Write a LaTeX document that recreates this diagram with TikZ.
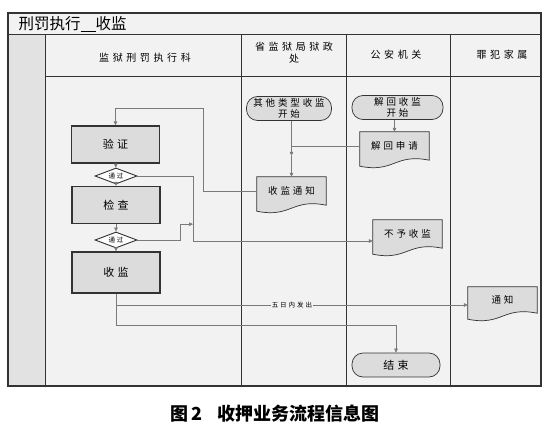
\documentclass[tikz,border=0pt]{standalone}
\usepackage{fontspec}
\setmainfont{Noto Sans CJK SC}
\newfontfamily\spaced{Noto Sans CJK SC}[LetterSpace=30]
\usetikzlibrary{arrows.meta, calc, shapes.geometric}
\definecolor{frameDark}{HTML}{333333}
\definecolor{lineGray}{HTML}{7A7A7A}
\definecolor{boxFill}{HTML}{DCDCDC}
\definecolor{paperGray}{HTML}{F2F2F2}
\definecolor{laneGray}{HTML}{E2E2E2}
\pgfdeclarelayer{paper}
\pgfdeclarelayer{sheets}
\pgfsetlayers{paper,sheets,main}

% document sheet with a wavy lower edge, drawn behind node #1
\newcommand{\docsheet}[1]{%
  \begin{pgfonlayer}{sheets}
    \path[docline] (#1.north west) -- (#1.north east) -- (#1.south east)
      .. controls ($(#1.south)+(0,-7)$) and ($(#1.south)+(0,13)$)
      .. ($(#1.south west)+(0,6)$) -- cycle;
  \end{pgfonlayer}}

\begin{document}
\begin{tikzpicture}[
  x=1pt, y=-1pt,
  font=\spaced\fontsize{9.5}{11}\selectfont,
  >={Triangle[length=4pt, width=3.6pt]},
  every node/.style={align=center},
  lane/.style={draw=frameDark, line width=0.8pt},
  headtext/.style={font=\spaced\addfontfeatures{LetterSpace=36}\fontsize{10}{12}\selectfont},
  procbox/.style={rectangle, draw=frameDark, line width=1.3pt, fill=boxFill,
                  minimum width=88, minimum height=37, inner sep=1pt,
                  font=\spaced\fontsize{11}{12}\selectfont},
  gate/.style={diamond, draw=frameDark, line width=0.9pt, fill=white,
               minimum width=42, minimum height=16, inner sep=0pt, aspect=2.6,
               font=\spaced\fontsize{6.5}{7}\selectfont},
  doc/.style={rectangle, minimum width=69, minimum height=28, inner sep=1pt},
  docline/.style={draw=frameDark, line width=0.7pt, fill=boxFill},
  term/.style={rectangle, rounded corners=11, draw=frameDark, line width=0.7pt,
               fill=boxFill, minimum height=24, inner sep=1pt},
  flow/.style={->, draw=lineGray, line width=0.5pt},
  link/.style={draw=lineGray, line width=0.5pt},
]
\useasboundingbox (0,0) rectangle (554,436);

% ── Swimlane frame ─────────────────────────────────────────────────
\def\frL{8}      % left border
\def\frR{541}    % right border
\def\frT{13}     % top border
\def\frB{386}    % bottom border
\def\rowH{34}    % bottom of the title row
\def\rowL{76}    % bottom of the lane headers
\def\laneA{45}   % narrow left strip
\def\laneB{241}
\def\laneC{346}
\def\laneD{450}

\begin{pgfonlayer}{paper}
  \fill[paperGray] (\frL,\frT) rectangle (\frR,\frB);
  \fill[laneGray]  (\frL,\rowH) rectangle (\laneA,\frB);
\end{pgfonlayer}
\draw[lane, line width=1.2pt] (\frL,\frT) rectangle (\frR,\frB);
\draw[lane] (\frL,\rowH) -- (\frR,\rowH);
\draw[lane] (\laneA,\rowL) -- (\frR,\rowL);
\foreach \x in {\laneA,\laneB,\laneC,\laneD}
  \draw[lane] (\x,\rowH) -- (\x,\frB);

\node[anchor=west, font=\rmfamily\fontsize{15.5}{17}\selectfont] (title) at (15,24)
  {刑罚执行\underline{\hspace{15pt}}收监};

\node[headtext] (hPrison)   at (145,58)  {监狱刑罚执行科};
\node[headtext] (hBureau)   at (294,53)  {省监狱局狱政\\处};
\node[headtext] (hPolice)   at (396,55)  {公安机关};
\node[headtext] (hFamily)   at (502,55)  {罪犯家属};

% ── Nodes ──────────────────────────────────────────────────────────
\node[procbox] (verify) at (115.5,144.5) {验证};
\node[gate]    (pass1)  at (116,176)     {通过};
\node[procbox] (check)  at (116,205)     {检查};
\node[gate]    (pass2)  at (116,240)     {通过};
\node[procbox, minimum height=41] (admit) at (116,272.5) {收监};

\node[term, minimum width=85] (otherStart)  at (289,108.5) {其他类型收监\\开始};
\node[term, minimum width=91] (returnStart) at (397.5,107.5) {解回收监\\开始};
\node[term, minimum width=88, font=\spaced\fontsize{11}{12}\selectfont]
  (finish) at (396,365) {结束};

\node[doc] (notice) at (291.5,191) {收监通知};
\node[doc] (appl)   at (394.5,146) {解回申请};
\node[doc] (reject) at (407.5,234) {不予收监};
\node[doc, minimum height=26] (inform) at (502.5,300) {通知};
\docsheet{notice}
\docsheet{appl}
\docsheet{reject}
\docsheet{inform}

% ── Main column flow ───────────────────────────────────────────────
\draw[flow] (verify) -- (pass1);
\draw[flow] (pass1)  -- (check);
\draw[flow] (check)  -- (pass2);
\draw[flow] (pass2)  -- (admit);

% ── Branches out of the checks ─────────────────────────────────────
\coordinate (laneX)    at (193,0);
\coordinate (rejIn)    at ($(reject.west)+(0,7)$);
\coordinate (checkTap) at (laneX |- check.south);
\draw[flow] (pass1.east) -- (pass1.east -| laneX)
                         -- (laneX |- rejIn) -- (rejIn);
\draw[flow] (pass2.east) -- ++(43,0) |- (checkTap);

% ── Bureau and police lanes ────────────────────────────────────────
\coordinate (joinPt) at ($(notice.north)+(0,-21)$);
\draw[flow] (otherStart.south -| notice.north) -- (joinPt);
\draw[flow] (joinPt) -- (notice.north);
\draw[link] (appl.west) -- (appl.west -| notice.north);
\draw[flow] (returnStart.south -| appl.north) -- (appl.north);

% notice goes back to the first check
\draw[flow] (notice.west) -- ++(-54,0) |- ($(verify.north)+(0,-17)$)
            -- (verify.north);

% ── After admission ────────────────────────────────────────────────
\coordinate (informIn) at ($(inform.west)+(0,5)$);
\draw[flow] (admit.south) |- node[pos=0.75, fill=paperGray, inner sep=1pt,
                                  font=\spaced\fontsize{6.5}{7}\selectfont]
                            {五日内发出} (informIn);
\draw[flow] (admit.south) |- ($(finish.north)+(0,-27)$) -- (finish.north);

% ── Caption ────────────────────────────────────────────────────────
\node[font=\rmfamily\bfseries\fontsize{18}{20}\selectfont] (caption) at (275,414)
  {图\,2\hspace{16pt}收押业务流程信息图};

\end{tikzpicture}
\end{document}
